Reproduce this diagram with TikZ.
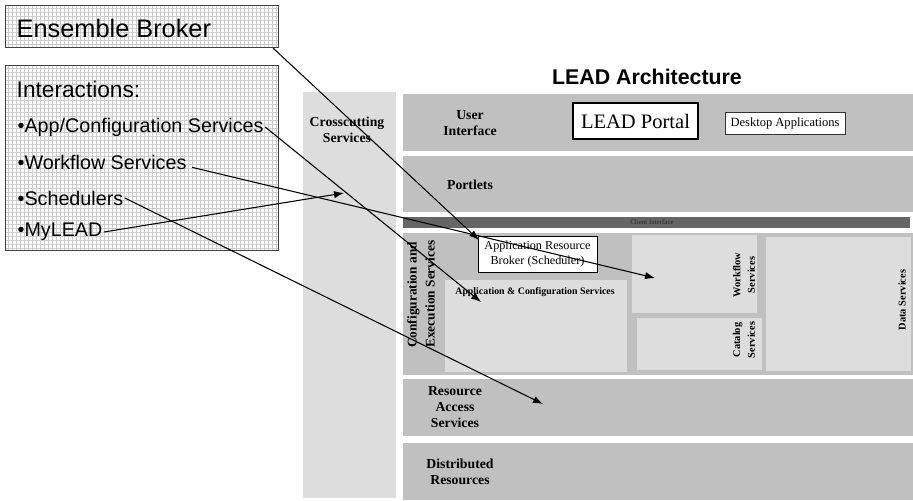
\documentclass[tikz,border=0pt]{standalone}
\usepackage{fontspec}
\setmainfont{Liberation Serif}
\setsansfont{Liberation Sans}
\usetikzlibrary{patterns,arrows.meta}

\definecolor{bandgray}{HTML}{C0C0C0}
\definecolor{palegray}{HTML}{DDDDDD}
\definecolor{bargray}{HTML}{666666}

\begin{document}
\begin{tikzpicture}[x=0.75pt,y=-0.75pt,
  hatchbox/.style={draw=black!75, line width=0.9pt, pattern=grid, pattern color=black!20,
    anchor=north west, inner sep=0pt},
  layer/.style={font=\fontsize{10.3}{12}\selectfont\bfseries, align=center},
  sidelabel/.style={font=\fontsize{7.8}{11}\selectfont\bfseries, align=center, rotate=90},
  bullet/.style={font=\sffamily\fontsize{14.8}{17}\selectfont, anchor=west, inner sep=1pt},
  link/.style={-{Latex[length=7.5pt,width=5.5pt]}, line width=0.8pt}]
  \useasboundingbox (0,0) rectangle (913,500);
  \fill[white] (0,0) rectangle (913,500);

  % left hand boxes
  \node[hatchbox, minimum width=204.75pt, minimum height=31.5pt] (broker) at (5,5) {};
  \node[anchor=west, font=\sffamily\fontsize{19}{22}\selectfont] (brokertext) at (12,28) {Ensemble Broker};
  \node[hatchbox, minimum width=204.75pt, minimum height=138.75pt] (interact) at (5,65) {};
  \node[anchor=west, font=\sffamily\fontsize{17}{20}\selectfont] (interacttext) at (12,89) {Interactions:};
  \node[bullet] (appcfg) at (16,127) {•App/Configuration Services};
  \node[bullet] (wflow) at (16,162) {•Workflow Services};
  \node[bullet] (sched) at (16,198) {•Schedulers};
  \node[bullet] (mylead) at (16,232) {•MyLEAD};

  % architecture
  \node[font=\sffamily\bfseries\fontsize{16}{19}\selectfont] (title) at (647,77) {LEAD Architecture};
  \fill[palegray] (303,92) rectangle (396,498);
  \node[layer] (cross) at (347,130) {Crosscutting\\Services};

  \fill[bandgray] (403,94) rectangle (913,151);
  \node[layer] (ui) at (470,123) {User\\Interface};
  \node[draw, line width=1.6pt, fill=white, minimum width=93.75pt, minimum height=27pt,
    font=\fontsize{15.4}{18}\selectfont] (portal) at (635.5,121) {LEAD Portal};
  \node[draw=black!80, line width=0.6pt, fill=white, minimum width=90pt, minimum height=16.5pt,
    inner sep=0pt, font=\fontsize{9.4}{11}\selectfont] (desktop) at (785,123) {Desktop Applications};

  \fill[bandgray] (403,156) rectangle (913,212);
  \node[layer] (portlets) at (470,185) {Portlets};

  \fill[bargray] (403,217) rectangle (910,228);
  \node[font=\fontsize{5.2}{6}\selectfont, text=black!85, inner sep=0pt] (client) at (652,222.5) {Client Interface};

  \fill[bandgray] (403,233) rectangle (913,375);
  \node[layer, rotate=90, align=left, anchor=north west, inner sep=0pt,
    font=\fontsize{10}{13.5}\selectfont\bfseries] (config) at (407,348) {Configuration and\\Execution Services};
  \fill[palegray] (445,280) rectangle (627,372);
  \node[font=\fontsize{7.4}{9}\selectfont\bfseries] (appsvc) at (535,292) {Application \& Configuration Services};
  \node[draw, line width=0.6pt, fill=white, minimum width=89.25pt, minimum height=27pt, inner sep=0pt,
    align=center, font=\fontsize{9.15}{11.25}\selectfont] (arb) at (537.5,254) {Application Resource\\Broker (Scheduler)};
  \fill[palegray] (632,235) rectangle (757,313);
  \node[sidelabel] (wfsvc) at (744,275) {Workflow\\Services};
  \fill[palegray] (637,318) rectangle (762,370);
  \node[sidelabel] (catsvc) at (744,340) {Catalog\\Services};
  \fill[palegray] (766,237) rectangle (911,371);
  \node[sidelabel] (datasvc) at (902,300) {Data Services};

  \fill[bandgray] (403,379) rectangle (913,436);
  \node[layer] (access) at (455,407) {Resource\\Access\\Services};
  \fill[bandgray] (403,443) rectangle (913,500);
  \node[layer] (dist) at (460,472) {Distributed\\Resources};

  % arrows
  \coordinate (toarb) at (479,240);
  \coordinate (toapp) at (481,302);
  \coordinate (towf) at (655,278);
  \coordinate (tocross) at (344,193);
  \coordinate (toaccess) at (543,404);
  \draw[link] ([xshift=-4.5pt]broker.south east) -- (toarb);
  \draw[link] (appcfg.east) -- (toapp);
  \draw[link] ([shift={(3pt,-4pt)}]wflow.east) -- (towf);
  \draw[link] (sched.east) -- (toaccess);
  \draw[link] (mylead.east) -- (tocross);
\end{tikzpicture}
\end{document}
